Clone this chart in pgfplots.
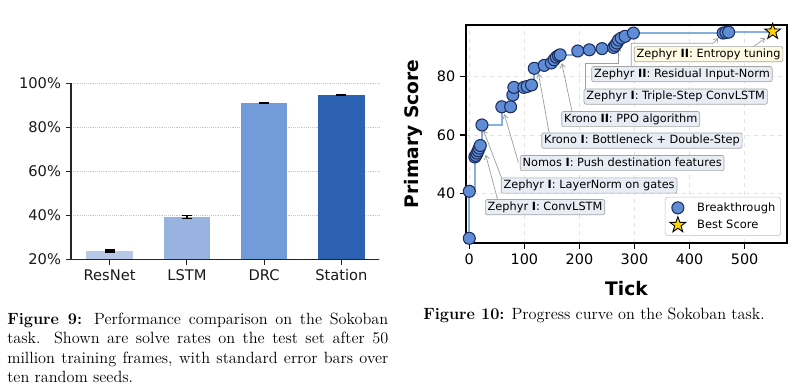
\documentclass[border=0pt]{standalone}
\usepackage{fontspec}
\usepackage{pgfplots}
\pgfplotsset{compat=1.18}
\usetikzlibrary{plotmarks,arrows.meta}
\newfontfamily\dv{DejaVu Sans}
\definecolor{barA}{HTML}{B8C9E8}
\definecolor{barB}{HTML}{98B3DF}
\definecolor{barC}{HTML}{729BD9}
\definecolor{barD}{HTML}{2D62B3}
\definecolor{markC}{HTML}{5F8CD4}
\definecolor{edgeC}{HTML}{1C2F60}
\definecolor{lineC}{HTML}{7BA7D9}
\definecolor{annF}{HTML}{E8ECF5}
\definecolor{annY}{HTML}{FFFBE2}
\definecolor{goldC}{HTML}{FFD400}
\pgfdeclareplotmark{fivestar}{%
  \pgfpathmoveto{\pgfqpointpolar{90}{\pgfplotmarksize}}%
  \pgfpathlineto{\pgfqpointpolar{126}{0.4\pgfplotmarksize}}%
  \pgfpathlineto{\pgfqpointpolar{162}{\pgfplotmarksize}}%
  \pgfpathlineto{\pgfqpointpolar{198}{0.4\pgfplotmarksize}}%
  \pgfpathlineto{\pgfqpointpolar{234}{\pgfplotmarksize}}%
  \pgfpathlineto{\pgfqpointpolar{270}{0.4\pgfplotmarksize}}%
  \pgfpathlineto{\pgfqpointpolar{306}{\pgfplotmarksize}}%
  \pgfpathlineto{\pgfqpointpolar{342}{0.4\pgfplotmarksize}}%
  \pgfpathlineto{\pgfqpointpolar{18}{\pgfplotmarksize}}%
  \pgfpathlineto{\pgfqpointpolar{54}{0.4\pgfplotmarksize}}%
  \pgfpathclose
  \pgfusepathqfillstroke
}
\tikzset{
  annbox/.style={draw=gray!70, line width=0.5pt, fill=annF, rounded corners=1.5pt,
    font=\dv\fontsize{8.5}{10}\selectfont, inner xsep=1.8pt, inner ysep=1.5pt,
    text height=6.6pt, text depth=1.8pt},
  annarrow/.style={draw=gray!75, line width=0.55pt, -{Straight Barb[length=3pt,width=4pt]}}
}
\begin{document}
\begin{tikzpicture}
\path[use as bounding box] (0,0) rectangle (608.25pt,-288.75pt);

% ---------------- left chart ----------------
\begin{axis}[
  at={(53.25pt,-194.475pt)}, anchor=south west,
  scale only axis, width=231.2pt, height=132pt,
  xmin=-0.5, xmax=3.49, ymin=20, ymax=100,
  axis x line*=bottom, axis y line*=left,
  axis line style={-, line width=0.9pt, black!85},
  xtick={0,1,2,3}, xticklabels={ResNet,LSTM,DRC,Station},
  ytick={20,40,60,80,100},
  yticklabel={\pgfmathprintnumber{\tick}\%},
  tick align=outside, major tick length=4pt,
  tick style={line width=0.8pt, black!85},
  ymajorgrids, grid style={densely dotted, gray!45, line width=0.6pt},
  /pgf/number format/assume math mode=true,
  ticklabel style={font=\dv\fontsize{11}{13}\selectfont, text=black!90},
]
\addplot[ybar, bar width=0.6, bar shift=0pt, fill=barA, draw=none,
  error bars/.cd, y dir=both, y explicit,
  error bar style={line width=1pt, black},
  error mark options={rotate=90, mark size=3.75pt, line width=1pt, black}]
  coordinates {(0,23.8) +- (0,0.5)};
\addplot[ybar, bar width=0.6, bar shift=0pt, fill=barB, draw=none,
  error bars/.cd, y dir=both, y explicit,
  error bar style={line width=1pt, black},
  error mark options={rotate=90, mark size=3.75pt, line width=1pt, black}]
  coordinates {(1,39.2) +- (0,0.8)};
\addplot[ybar, bar width=0.6, bar shift=0pt, fill=barC, draw=none,
  error bars/.cd, y dir=both, y explicit,
  error bar style={line width=1pt, black},
  error mark options={rotate=90, mark size=3.75pt, line width=1pt, black}]
  coordinates {(2,91.0) +- (0,0.3)};
\addplot[ybar, bar width=0.6, bar shift=0pt, fill=barD, draw=none,
  error bars/.cd, y dir=both, y explicit,
  error bar style={line width=1pt, black},
  error mark options={rotate=90, mark size=3.75pt, line width=1pt, black}]
  coordinates {(3,94.7) +- (0,0.3)};
\end{axis}

% ---------------- right chart ----------------
\begin{axis}[
  at={(349.5pt,-182.25pt)}, anchor=south west,
  scale only axis, width=240.75pt, height=163.5pt,
  xmin=-6, xmax=577, ymin=23.2, ymax=97.45,
  xtick={0,100,200,300,400,500}, ytick={40,60,80},
  xtick pos=bottom, ytick pos=left,
  tick align=outside, major tick length=4.5pt,
  tick style={line width=1pt, black},
  axis line style={line width=1.2pt},
  grid=major, grid style={dashed, gray!22, line width=0.5pt},
  xlabel={Tick}, ylabel={Primary Score},
  xlabel style={font=\dv\bfseries\fontsize{14}{16}\selectfont, at={(axis description cs:0.5,-0.208)}, anchor=center, text depth=0pt},
  ylabel style={font=\dv\bfseries\fontsize{14}{16}\selectfont, at={(axis description cs:-0.164,0.5)}, anchor=center},
  /pgf/number format/assume math mode=true,
  ticklabel style={font=\dv\fontsize{10.8}{12}\selectfont},
  legend image code/.code={%
    \path[draw=none, fill=none] (0pt,-5pt) rectangle (20pt,5pt);
    \draw[mark repeat=1] plot coordinates {(7.5pt,0pt)};},
  legend style={at={(0.981,0.033)}, anchor=south east,
    font=\dv\fontsize{8.6}{10}\selectfont, draw=gray!50, rounded corners=2pt,
    fill=white, row sep=0.6pt, inner xsep=2pt, inner ysep=2pt},
  legend cell align=left,
]
\addplot[const plot, color=lineC, line width=1.6pt, opacity=0.9, forget plot] table {
x y
0 24.8
0 40.8
10 52.5
12 53.0
14 53.8
16 54.6
18 55.5
20 56.4
23 63.4
59 69.6
75 69.6
79 73.6
81 76.2
99 76.2
105 76.5
113 77.0
118 82.7
136 83.7
149 84.5
154 85.6
158 86.5
162 87.0
165 87.3
197 88.6
218 89.0
241 89.4
262 89.8
265 90.5
268 91.3
271 92.3
276 93.0
283 93.6
298 94.7
461 94.7
466 94.9
471 95.0
551 95.2
};
\addplot[only marks, mark=*, mark size=4.5pt,
  mark options={fill=markC, draw=edgeC, line width=0.8pt}] table {
x y
0 24.8
0 40.8
10 52.5
12 53.0
14 53.8
16 54.6
18 55.5
20 56.4
23 63.4
59 69.6
75 69.6
79 73.6
81 76.2
99 76.2
105 76.5
113 77.0
118 82.7
136 83.7
149 84.5
154 85.6
158 86.5
162 87.0
165 87.3
197 88.6
218 89.0
241 89.4
262 89.8
265 90.5
268 91.3
271 92.3
276 93.0
283 93.6
298 94.7
461 94.7
466 94.9
471 95.0
};
\addlegendentry{Breakthrough}
\addplot[only marks, mark=fivestar, mark size=6.2pt,
  mark options={fill=goldC, draw=black, line width=0.7pt}] coordinates {(551,95.2)};
\addlegendentry{Best Score}

% annotation arrows
\draw[annarrow] (axis cs:51.6,37.8) -- (axis cs:29.8,53.25);
\draw[annarrow] (axis cs:58.9,45.2) -- (axis cs:25.5,61.7);
\draw[annarrow] (axis cs:89.1,50.6) -- (axis cs:63.6,67.1);
\draw[annarrow] (axis cs:144.9,60.8) -- (axis cs:125.5,81.0);
\draw[annarrow] (axis cs:186.2,68.2) -- (axis cs:168,84.4);
\draw[annarrow] (axis cs:210.4,75.7) -- (axis cs:210.4,84.4) -- (axis cs:270.9,84.4) -- (axis cs:270.9,90.0);
\draw[annarrow] (axis cs:294,83.2) -- (axis cs:294,91.2) -- (axis cs:443,91.2) -- (axis cs:452.2,93.0);
\draw[annarrow] (axis cs:514,89.8) -- (axis cs:537.6,93.0);

% annotation boxes
\node[annbox] at (axis cs:137.6,35.41) {Zephyr \textbf{I}: ConvLSTM};
\node[annbox] at (axis cs:217.6,42.79) {Zephyr \textbf{I}: LayerNorm on gates};
\node[annbox] at (axis cs:277.6,50.43) {Nomos \textbf{I}: Push destination features};
\node[annbox] at (axis cs:313.5,58.08) {Krono \textbf{I}: Bottleneck + Double-Step};
\node[annbox] at (axis cs:293.1,65.42) {Krono \textbf{II}: PPO algorithm};
\node[annbox] at (axis cs:374.9,73.07) {Zephyr \textbf{I}: Triple-Step ConvLSTM};
\node[annbox] at (axis cs:386.2,80.71) {Zephyr \textbf{II}: Residual Input-Norm};
\node[annbox, fill=annY] at (axis cs:434.5,87.51) {Zephyr \textbf{II}: Entropy tuning};
\end{axis}

% ---------------- captions ----------------
\node[anchor=north west, inner sep=0pt, text width=285.75pt, align=justify,
  font=\fontsize{12.2}{14.55}\selectfont] at (5.25pt,-234.5pt)
  {\textbf{Figure 9:} Performance comparison on the Sokoban task. Shown are solve rates on the test set after 50 million training frames, with standard error bars over ten random seeds.};
\node[anchor=base west, inner sep=0pt, font=\fontsize{12.2}{14.55}\selectfont]
  at (317.25pt,-239.5pt) {\textbf{Figure 10:} Progress curve on the Sokoban task.};
\end{tikzpicture}
\end{document}
